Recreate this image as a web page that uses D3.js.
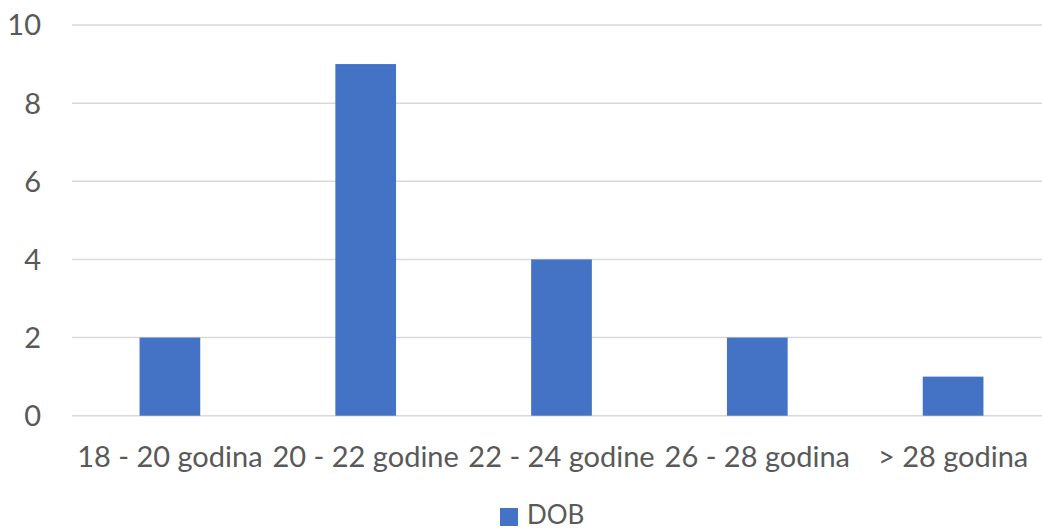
<!DOCTYPE html>
<html><head><meta charset="utf-8">
<script src="https://cdn.jsdelivr.net/npm/d3@7"></script>
<style>body{margin:0;background:#fff}svg{display:block}text{font-family:Lato,"Open Sans",sans-serif;fill:#595959}</style>
</head><body><svg id="c" width="1042" height="529"></svg>
<script>
const categories = ["18 - 20 godina","20 - 22 godine","22 - 24 godine","26 - 28 godina","> 28 godina"];
const values = [2, 9, 4, 2, 1];
const yTicks = [0, 2, 4, 6, 8, 10];
const seriesName = "DOB";

const svg = d3.select("#c");
const x = d3.scaleBand().domain(categories).range([72, 1051]).paddingInner(0.69).paddingOuter(0.345);
const y = d3.scaleLinear().domain([0, 10]).range([415.7, 25]);

svg.append("g").selectAll("line").data(yTicks).join("line")
  .attr("x1", 72).attr("x2", 1051)
  .attr("y1", d => y(d)).attr("y2", d => y(d))
  .attr("stroke", "#d9d9d9").attr("stroke-width", 1.5);

svg.append("g").selectAll("text").data(yTicks).join("text")
  .attr("x", 41).attr("y", d => y(d)).attr("dy", "0.36em")
  .attr("text-anchor", "end").attr("font-size", 29).text(d => d);

svg.append("g").selectAll("rect").data(values).join("rect")
  .attr("x", (d, i) => x(categories[i])).attr("width", x.bandwidth())
  .attr("y", d => y(d)).attr("height", d => y(0) - y(d))
  .attr("fill", "#4472c4");

svg.append("g").selectAll("text").data(categories).join("text")
  .attr("x", d => x(d) + x.bandwidth() / 2).attr("y", 467)
  .attr("text-anchor", "middle").attr("font-size", 29).text(d => d);

const lg = svg.append("g");
lg.append("rect").attr("x", 500).attr("y", 508).attr("width", 18).attr("height", 18).attr("fill", "#4472c4");
lg.append("text").attr("x", 527).attr("y", 524).attr("font-size", 26).text(seriesName);
</script></body></html>
